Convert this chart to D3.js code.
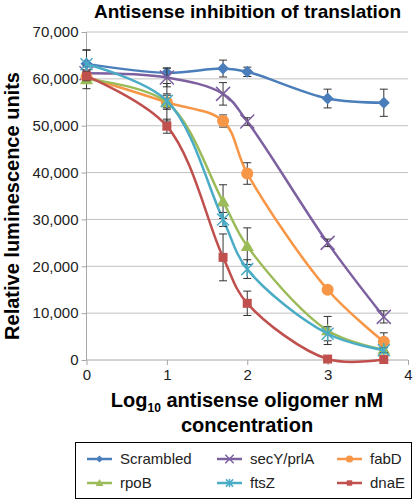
<!DOCTYPE html>
<html><head><meta charset="utf-8">
<script src="https://cdn.jsdelivr.net/npm/d3@7"></script>
<style>body{margin:0;background:#fff}svg{display:block}text{font-family:Arial,"Liberation Sans",sans-serif}</style>
</head><body><svg id="c" width="420" height="500"></svg>
<script>
const xValues = [0, 1, 1.699, 2, 3, 3.699];
const seriesNames = ["Scrambled", "secY/prlA", "fabD", "rpoB", "ftsZ", "dnaE"];
const scrambled = [63200, 61300, 62200, 61500, 55800, 54900];
const scrambledErr = [3000, 1000, 1800, 1000, 2000, 2900];
const secY = [61200, 60300, 56800, 50900, 25000, 9200];
const secYErr = [1500, 2000, 2400, 800, 800, 1300];
const fabD = [60400, 55000, 51000, 39800, 15000, 3900];
const fabDErr = [1000, 1500, 1300, 2300, 500, 1900];
const rpoB = [59900, 55000, 33800, 24300, 6300, 2200];
const rpoBErr = [2000, 4000, 3600, 3900, 3000, 500];
const ftsZ = [63100, 55300, 30000, 19400, 5600, 2100];
const ftsZErr = [3000, 1500, 1500, 2000, 1500, 500];
const dnaE = [60600, 49900, 21900, 12100, 200, 100];
const dnaEErr = [1000, 1500, 5000, 2600, 300, 300];
const colors = ["#4a7ebb", "#7d60a0", "#f79646", "#9bbb59", "#4bacc6", "#c0504d"];
const markers = ["diamond", "x", "circle", "triangle", "star", "square"];
const yTicks = [0, 10000, 20000, 30000, 40000, 50000, 60000, 70000];
const xTicks = [0, 1, 2, 3, 4];

const values = [scrambled, secY, fabD, rpoB, ftsZ, dnaE];
const errs = [scrambledErr, secYErr, fabDErr, rpoBErr, ftsZErr, dnaEErr];

const svg = d3.select("#c");
const x = d3.scaleLinear().domain([0, 4]).range([86.5, 408]);
const y = d3.scaleLinear().domain([0, 70000]).range([360, 32]);

// title
svg.append("text").attr("x", 247.5).attr("y", 17.5).attr("text-anchor", "middle")
  .attr("font-size", 19).attr("font-weight", "bold").text("Antisense inhibition of translation");

// grid
svg.append("g").selectAll("line").data(yTicks.slice(1)).join("line")
  .attr("x1", x(0)).attr("x2", x(4)).attr("y1", d => y(d)).attr("y2", d => y(d))
  .attr("stroke", "#c0c0c0").attr("stroke-width", 1);

// axes
const ya = svg.append("g").attr("transform", `translate(${x(0)},0)`)
  .call(d3.axisLeft(y).tickValues(yTicks).tickFormat(d3.format(",")).tickSize(5).tickPadding(3));
const xa = svg.append("g").attr("transform", `translate(0,${y(0)})`)
  .call(d3.axisBottom(x).tickValues(xTicks).tickFormat(d3.format("d")).tickSize(5).tickPadding(4));
[ya, xa].forEach(g => {
  g.select(".domain").attr("stroke", "#a6a6a6");
  g.selectAll(".tick line").attr("stroke", "#a6a6a6");
  g.selectAll(".tick text").attr("font-size", 15).attr("fill", "#222").attr("font-family", "Arial, 'Liberation Sans', sans-serif");
});
xa.select(".domain").attr("d", `M${x(0)},0H${x(4)}`);
ya.select(".domain").attr("d", `M0,${y(70000)}V${y(0)}`);

// axis labels
svg.append("text").attr("transform", "translate(19,206) rotate(-90)").attr("text-anchor", "middle")
  .attr("font-size", 20).attr("font-weight", "bold").text("Relative luminescence units");
const xl = svg.append("text").attr("x", 247).attr("y", 407).attr("text-anchor", "middle")
  .attr("font-size", 20).attr("font-weight", "bold");
xl.append("tspan").text("Log");
xl.append("tspan").attr("font-size", 12).attr("dy", 5).text("10");
xl.append("tspan").attr("dy", -5).text(" antisense oligomer nM");
svg.append("text").attr("x", 247).attr("y", 432).attr("text-anchor", "middle")
  .attr("font-size", 20).attr("font-weight", "bold").text("concentration");

function drawMarker(g, type, color, cx, cy, scale) {
  const s = scale || 1;
  if (type === "diamond") {
    const r = 6 * s;
    g.append("path").attr("d", `M${cx},${cy - r}L${cx + r},${cy}L${cx},${cy + r}L${cx - r},${cy}Z`).attr("fill", color);
  } else if (type === "circle") {
    g.append("circle").attr("cx", cx).attr("cy", cy).attr("r", 6 * s).attr("fill", color);
  } else if (type === "triangle") {
    const r = 6.5 * s;
    g.append("path").attr("d", `M${cx},${cy - r}L${cx + r},${cy + r * 0.75}L${cx - r},${cy + r * 0.75}Z`).attr("fill", color);
  } else if (type === "square") {
    const r = 4.5 * s;
    g.append("rect").attr("x", cx - r).attr("y", cy - r).attr("width", 2 * r).attr("height", 2 * r).attr("fill", color);
  } else if (type === "x") {
    const r = 7 * s;
    g.append("path").attr("d", `M${cx - r},${cy - r}L${cx + r},${cy + r}M${cx - r},${cy + r}L${cx + r},${cy - r}`)
      .attr("stroke", color).attr("stroke-width", 1.5).attr("fill", "none");
  } else if (type === "star") {
    const r = 6 * s;
    g.append("path").attr("d", `M${cx - r},${cy - r}L${cx + r},${cy + r}M${cx - r},${cy + r}L${cx + r},${cy - r}M${cx},${cy - r * 1.2}L${cx},${cy + r * 1.2}`)
      .attr("stroke", color).attr("stroke-width", 1.5).attr("fill", "none");
  }
}

const line = d3.line().x(d => x(d[0])).y(d => y(d[1])).curve(d3.curveCatmullRom.alpha(0.5));
const plot = svg.append("g");
values.forEach((vals, i) => {
  const g = plot.append("g");
  const pts = xValues.map((xv, j) => [xv, vals[j]]);
  g.append("path").attr("d", line(pts)).attr("fill", "none").attr("stroke", colors[i]).attr("stroke-width", 2.5);
  pts.forEach(([xv, yv], j) => {
    const e = errs[i][j];
    const px = x(xv);
    g.append("path").attr("d", `M${px},${y(yv + e)}V${y(Math.max(0, yv - e))}M${px - 4},${y(yv + e)}H${px + 4}M${px - 4},${y(Math.max(0, yv - e))}H${px + 4}`)
      .attr("stroke", "#333").attr("stroke-width", 1).attr("fill", "none");
  });
  pts.forEach(([xv, yv]) => drawMarker(g, markers[i], colors[i], x(xv), y(yv)));
});

// legend
const lg = svg.append("g");
lg.append("rect").attr("x", 75.5).attr("y", 442.5).attr("width", 336).attr("height", 56)
  .attr("fill", "#fff").attr("stroke", "#000").attr("stroke-width", 1);
const colX = [87, 217, 337];
const rowY = [459, 483];
seriesNames.forEach((name, i) => {
  const cx = colX[i % 3], cy = rowY[Math.floor(i / 3)];
  lg.append("line").attr("x1", cx).attr("x2", cx + 25).attr("y1", cy).attr("y2", cy)
    .attr("stroke", colors[i]).attr("stroke-width", 2.5);
  drawMarker(lg, markers[i], colors[i], cx + 12.5, cy, 0.6);
  lg.append("text").attr("x", cx + 33).attr("y", cy + 5).attr("font-size", 15).attr("fill", "#222").text(name);
});
</script></body></html>
